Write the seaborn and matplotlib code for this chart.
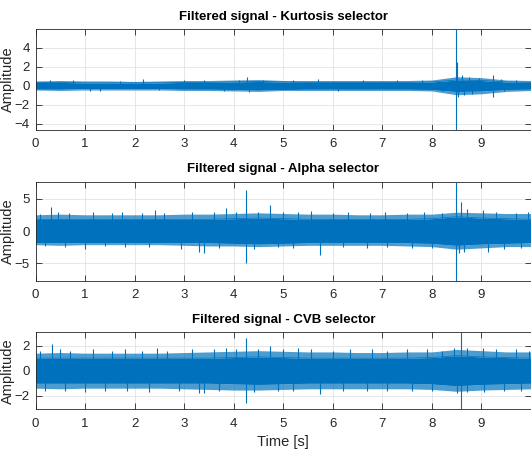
import numpy as np
import matplotlib
matplotlib.use("Agg")
import matplotlib.pyplot as plt
import seaborn as sns

# envelope sample times (s)
env_t = np.arange(0, 10.01, 0.5)

# Kurtosis selector: solid core and outer tips of the noise band
kurt_core = [0.35, 0.35, 0.3, 0.3, 0.3, 0.3, 0.35, 0.35, 0.4, 0.45, 0.4, 0.35,
             0.35, 0.35, 0.35, 0.35, 0.4, 0.6, 0.55, 0.4, 0.35]
kurt_hi = [0.5, 0.55, 0.5, 0.5, 0.45, 0.5, 0.55, 0.55, 0.6, 0.65, 0.55, 0.55,
           0.55, 0.55, 0.55, 0.55, 0.6, 0.95, 0.85, 0.6, 0.55]
kurt_lo = [-0.45, -0.5, -0.45, -0.45, -0.45, -0.45, -0.5, -0.5, -0.55, -0.6, -0.5, -0.5,
           -0.5, -0.5, -0.5, -0.5, -0.55, -0.95, -0.85, -0.6, -0.5]
kurt_peak_t = [0.3, 0.75, 1.1, 1.3, 1.7, 2.16, 2.5, 3.0, 3.4, 3.8, 4.1, 4.26, 4.3,
               4.6, 5.2, 5.7, 6.1, 6.6, 7.3, 7.8, 8.2, 8.49, 8.49, 8.5, 8.52,
               8.6, 8.65, 8.75, 8.8, 8.95, 9.23, 9.24, 9.4, 9.45, 9.7]
kurt_peak_v = [0.6, 0.6, -0.55, -0.55, 0.55, 0.7, -0.5, 0.6, 0.6, -0.55, 0.65, 0.88, -0.65,
               0.6, 0.6, 0.7, -0.55, 0.6, 0.6, 0.65, -0.6, 5.94, -4.66, 2.5, -1.2,
               1.1, -1.0, 0.9, -0.9, 0.8, 1.13, -1.16, 0.7, -0.6, 0.6]

# Alpha selector
alpha_core = [1.8, 1.8, 1.8, 1.8, 1.8, 1.8, 1.8, 1.8, 1.9, 2.0, 1.9, 1.8,
              1.8, 1.8, 1.8, 1.8, 1.9, 2.2, 2.0, 1.9, 1.8]
alpha_hi = [2.5, 2.6, 2.5, 2.5, 2.5, 2.5, 2.6, 2.6, 2.7, 2.8, 2.7, 2.6,
            2.6, 2.5, 2.5, 2.6, 2.6, 2.9, 2.8, 2.7, 2.7]
alpha_lo = [-2.1, -2.2, -2.1, -2.1, -2.1, -2.1, -2.2, -2.3, -2.3, -2.4, -2.3, -2.2,
            -2.2, -2.2, -2.2, -2.3, -2.4, -2.8, -2.6, -2.4, -2.4]
alpha_peak_t = [0.1, 0.32, 0.45, 0.68, 1.15, 1.55, 1.75, 2.15, 2.42, 2.6, 3.16, 3.6,
                3.85, 4.05, 4.24, 4.5, 4.74, 5.0, 5.3, 5.55, 6.0, 6.3, 6.75, 7.05,
                7.5, 7.85, 8.2, 8.49, 8.59, 8.7, 9.03, 9.3, 9.7, 9.93,
                0.2, 0.6, 1.0, 1.4, 1.8, 2.3, 2.93, 3.29, 3.41, 3.7, 4.24, 4.4,
                4.9, 5.2, 5.74, 6.2, 6.7, 7.1, 7.6, 8.0, 8.49, 8.54, 8.65, 9.14,
                9.45, 9.8]
alpha_peak_v = [2.6, 3.7, 2.9, 2.8, 2.9, 2.8, 2.9, 2.8, 3.3, 2.8, 3.0, 2.9,
                3.6, 3.0, 6.3, 2.9, 4.0, 3.0, 2.9, 3.1, 2.8, 2.9, 2.8, 2.9,
                2.8, 2.9, 2.8, 7.6, 4.5, 3.4, 3.3, 2.9, 2.8, 3.0,
                -2.3, -2.4, -2.7, -2.3, -2.4, -2.4, -2.7, -3.2, -3.4, -2.6, -4.9, -2.8,
                -2.5, -2.6, -3.7, -2.5, -2.6, -2.5, -2.6, -2.6, -7.7, -3.4, -3.2, -3.2,
                -2.7, -2.6]

# CVB selector
cvb_core = [1.0, 1.0, 1.0, 1.0, 1.0, 1.0, 1.0, 1.0, 1.05, 1.1, 1.05, 1.0,
            1.0, 1.0, 1.0, 1.0, 1.05, 1.2, 1.1, 1.05, 1.0]
cvb_hi = [1.4, 1.45, 1.4, 1.4, 1.4, 1.4, 1.45, 1.5, 1.55, 1.6, 1.55, 1.5,
          1.5, 1.45, 1.45, 1.5, 1.5, 1.7, 1.6, 1.5, 1.5]
cvb_lo = [-1.4, -1.45, -1.4, -1.4, -1.4, -1.4, -1.45, -1.5, -1.55, -1.55, -1.5, -1.45,
          -1.45, -1.45, -1.45, -1.45, -1.5, -1.65, -1.55, -1.5, -1.45]
cvb_peak_t = [0.1, 0.33, 0.5, 0.7, 1.15, 1.55, 1.8, 2.15, 2.45, 2.65, 3.15, 3.6,
              3.85, 4.05, 4.24, 4.5, 4.74, 5.0, 5.3, 5.55, 6.0, 6.35, 6.8, 7.1,
              7.5, 7.9, 8.2, 8.45, 8.59, 8.7, 9.03, 9.3, 9.7, 9.95,
              0.2, 0.6, 1.0, 1.4, 1.85, 2.3, 2.9, 3.3, 3.41, 3.7, 4.24, 4.4,
              4.9, 5.2, 5.74, 6.2, 6.7, 7.1, 7.6, 8.0, 8.59, 8.5, 8.7, 9.05,
              9.45, 9.8]
cvb_peak_v = [1.6, 2.14, 1.7, 1.6, 1.7, 1.6, 1.75, 1.6, 1.8, 1.6, 1.7, 1.75,
              1.8, 1.7, 2.6, 1.7, 2.0, 1.7, 1.8, 1.7, 1.6, 1.7, 1.75, 1.6,
              1.7, 1.7, 1.6, 1.8, 3.07, 1.8, 1.8, 1.7, 1.7, 1.6,
              -1.6, -1.65, -1.7, -1.6, -1.6, -1.7, -1.65, -1.8, -1.8, -1.6, -2.56, -1.7,
              -1.6, -1.65, -1.86, -1.6, -1.65, -1.6, -1.65, -1.6, -3.09, -1.75, -1.7, -1.68,
              -1.65, -1.6]

titles = ["Filtered signal - Kurtosis selector",
          "Filtered signal - Alpha selector",
          "Filtered signal - CVB selector"]
ylims = [(-4.66, 5.94), (-7.7, 7.6), (-3.09, 3.07)]
yticks = [[-4, -2, 0, 2, 4], [-5, 0, 5], [-2, 0, 2]]
xticks = list(range(10))

BLUE = "#0072BD"
DARK = "#262626"
FONT = ["Liberation Sans", "DejaVu Sans"]

sns.set_theme(style="whitegrid")
plt.rcParams["font.family"] = FONT

panels = [
    (kurt_core, kurt_hi, kurt_lo, kurt_peak_t, kurt_peak_v),
    (alpha_core, alpha_hi, alpha_lo, alpha_peak_t, alpha_peak_v),
    (cvb_core, cvb_hi, cvb_lo, cvb_peak_t, cvb_peak_v),
]
# axes boxes in figure fractions [left, bottom, width, height]
boxes = [
    [0.0669, 0.7143, 0.9331, 0.2213],
    [0.0669, 0.3824, 0.9331, 0.2183],
    [0.0669, 0.1004, 0.9331, 0.1693],
]

fig = plt.figure(figsize=(5.31, 4.55), dpi=100)
fig.patch.set_facecolor("white")

for i, ((core, hi, lo, pt, pv), box) in enumerate(zip(panels, boxes)):
    ax = fig.add_axes(box)
    ax.set_facecolor("white")
    core = np.asarray(core)

    # dense band: solid core plus a lighter fringe out to the spike tips
    ax.fill_between(env_t, -core, core, color=BLUE, lw=0, zorder=2)
    ax.fill_between(env_t, core, hi, color=BLUE, alpha=0.7, lw=0, zorder=2)
    ax.fill_between(env_t, lo, -core, color=BLUE, alpha=0.7, lw=0, zorder=2)
    sns.lineplot(x=env_t, y=core, ax=ax, color=BLUE, lw=0.5, zorder=2)
    sns.lineplot(x=env_t, y=-core, ax=ax, color=BLUE, lw=0.5, zorder=2)

    # individual spikes
    ax.vlines(pt, 0, pv, color=BLUE, lw=0.8, zorder=3)

    ax.set_xlim(0, 10)
    ax.set_ylim(*ylims[i])
    ax.set_xticks(xticks)
    ax.set_yticks(yticks[i])
    ax.grid(True, color="#e3e3e3", lw=0.6)
    ax.set_axisbelow(True)
    for s in ax.spines.values():
        s.set_visible(True)
        s.set_color(DARK)
        s.set_linewidth(0.6)
    ax.tick_params(direction="in", length=4, width=0.6, color=DARK,
                   labelcolor=DARK, labelsize=9.5,
                   top=True, right=True, bottom=True, left=True)
    ax.tick_params(axis="x", pad=6)
    ax.tick_params(axis="y", pad=4)
    ax.set_title(titles[i], fontsize=9.5, fontweight="bold", color="black", pad=7)
    ax.set_ylabel("Amplitude", fontsize=10.5, color=DARK)
    ax.yaxis.set_label_coords(-0.041, 0.5)
    ax.set_xlabel("")

ax.set_xlabel("Time [s]", fontsize=10.5, color=DARK, labelpad=4)

fig.savefig("out.png", dpi=100, facecolor="white")
